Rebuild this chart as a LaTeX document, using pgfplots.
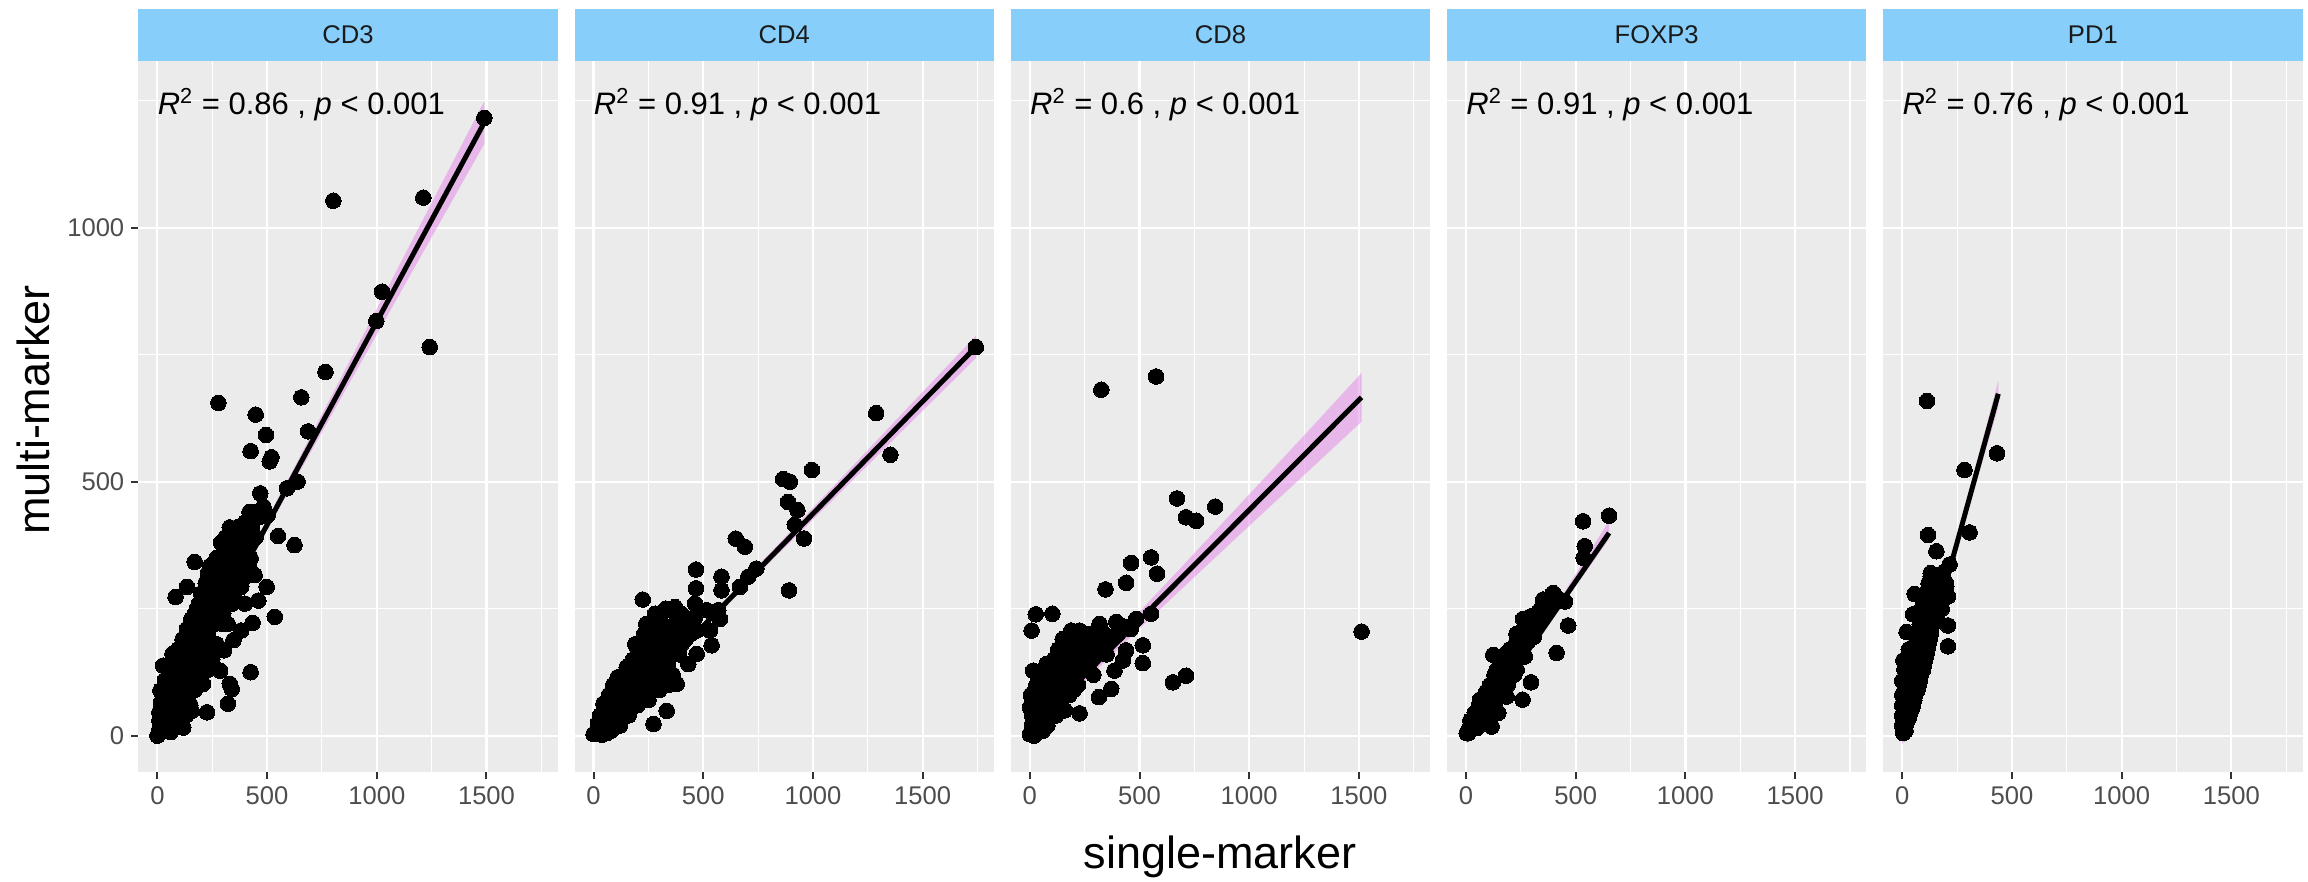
\documentclass[border=0pt]{standalone}
\usepackage{fontspec}
\setmainfont{Liberation Sans}
\usepackage{pgfplots}
\pgfplotsset{compat=1.18}

\definecolor{panelbg}{RGB}{235,235,235}
\definecolor{stripblue}{RGB}{135,206,250}
\definecolor{tickgray}{RGB}{77,77,77}
\definecolor{tickdark}{RGB}{51,51,51}
\definecolor{striptext}{RGB}{26,26,26}
\definecolor{ribbon}{RGB}{226,120,230}

\newcommand{\tickfont}{\fontsize{12.8}{14}\selectfont}

\pgfplotsset{
  facet/.style={
    scale only axis, width=209.75pt, height=355.65pt,
    anchor=south west,
    xmin=-87, xmax=1825, ymin=-72, ymax=1328,
    axis background/.style={fill=panelbg},
    axis line style={draw=none},
    xtick={0,500,1000,1500}, xticklabels={0,500,1000,1500},
    ytick={0,500,1000},
    minor xtick={250,750,1250,1750}, minor ytick={250,750,1250},
    grid=both,
    major grid style={white, line width=1.1pt},
    minor grid style={white, line width=0.55pt},
    tick align=outside, tick pos=left,
    major tick length=3.5pt, minor tick length=0pt,
    every tick/.style={tickdark, line width=1pt},
    xticklabel style={font=\tickfont, text=tickgray},
    yticklabel style={font=\tickfont, text=tickgray},
    clip=true,
  },
  noy/.style={yticklabels={}, ytick style={draw=none}},
  pts/.style={only marks, mark=*, mark size=3.9pt,
    mark options={fill=black, draw=black, line width=0pt}},
  band/.style={draw=none, fill=ribbon, fill opacity=0.45},
  fit/.style={black, line width=2.5pt, no marks},
}

\newcommand{\stat}[1]{\node[anchor=base west, inner sep=0pt,
  font=\fontsize{15.5}{17}\selectfont] at (axis cs:0,1223)
  {\textit{R}\textsuperscript{2} = #1 , \textit{p} < 0.001};}

\newcommand{\strip}[2]{%
  \fill[stripblue] (#1.north west) rectangle ([yshift=26pt]#1.north east);
  \node[font=\tickfont, text=striptext] at ([yshift=13pt]#1.north) {#2};}

\begin{document}
\begin{tikzpicture}
\useasboundingbox (0,0) rectangle (1154pt,441pt);

% ---------------- CD3 ----------------
\begin{axis}[facet, name=p1, at={(69.15pt,54.85pt)}, yticklabels={0,500,1000}]
\addplot[pts] coordinates {
(1490,1216)(802,1053)(1212,1059)(1024,874)(998,816)(1241,765)(766,716)(278,655)
(656,666)(448,632)(495,592)(687,599)(425,560)(512,540)(520,548)(590,487)(639,500)
(469,477)(483,451)(469,431)(503,434)(370,411)(352,393)(448,391)(550,393)(625,375)
(330,362)(312,345)(365,342)(425,349)(170,342)(240,334)(399,313)(443,316)(266,313)
(135,293)(83,273)(498,293)(382,293)(240,273)(460,266)(191,247)(330,260)(399,260)
(535,234)(434,222)(382,207)(260,220)(170,220)(347,188)(304,168)(148,168)(69,161)
(26,138)(148,141)(226,141)(286,128)(425,125)(330,102)(339,92)(321,63)(226,46)
(14,89)(17,66)(9,46)(118,16)(61,7)(0,0)(9,30)(156,89)(104,102)(208,102)(156,49)
(87,36)(52,59)(191,194)(234,181)
(20,20)(40,30)(60,50)(80,40)(100,60)(30,60)(50,90)(70,110)(90,80)(110,100)
(130,120)(120,70)(140,90)(160,110)(180,130)(200,150)(100,140)(120,160)(140,190)
(160,200)(180,180)(200,210)(220,230)(240,250)(260,270)(280,290)(300,310)(320,330)
(210,170)(230,200)(250,220)(270,240)(290,260)(310,280)(330,300)(350,320)(370,340)
(390,360)(410,380)(430,410)(450,440)(180,250)(200,280)(220,300)(260,300)(290,330)
(340,370)(360,400)(380,380)(400,420)(420,440)(300,240)(320,220)(350,280)(370,300)
(400,330)(270,180)(250,150)(230,130)(190,120)(170,90)(150,60)(130,40)(110,30)
(80,20)(40,10)(20,50)(10,15)(35,110)(55,130)(75,150)(95,170)(115,190)(135,210)
(155,230)(175,220)(195,240)(215,260)(235,280)(255,300)(275,320)(295,350)(315,370)
(335,390)
(50,30)(70,60)(90,50)(110,70)(130,90)(150,100)(170,150)(190,170)(210,190)(230,210)
(250,240)(270,260)(290,290)(310,300)(330,320)(350,350)(370,360)(390,380)(410,400)
(150,200)(170,240)(190,260)(210,280)(230,320)(250,330)(270,350)(290,380)(310,390)
(330,410)(125,180)(105,160)(85,130)(65,100)(45,70)(25,40)(60,20)(100,40)(140,70)
(180,100)(220,140)(260,180)(300,220)(340,260)(380,300)(420,330)
};
\addplot[band] coordinates {(0,26)(150,143)(300,263)(600,508)(900,757)(1200,1007)(1490,1249)
  (1490,1165)(1200,943)(900,713)(600,482)(300,247)(150,127)(0,4)} -- cycle;
\addplot[fit] coordinates {(0,15)(1490,1207)};
\stat{0.86}
\end{axis}
\strip{p1}{CD3}

% ---------------- CD4 ----------------
\begin{axis}[facet, noy, name=p2, at={(287.25pt,54.85pt)}]
\addplot[pts] coordinates {
(1742,765)(1288,635)(1353,553)(995,523)(864,505)(894,500)(886,460)(929,444)
(917,415)(959,388)(891,286)(648,388)(689,372)(742,329)(705,313)(667,293)(467,327)
(467,290)(583,313)(583,286)(462,260)(515,247)(576,230)(568,247)(371,253)(224,268)
(288,207)(348,214)(470,207)(530,207)(538,178)(250,168)(364,181)(470,161)(432,141)
(379,102)(333,49)(273,23)(197,128)(151,135)(91,76)(45,63)(0,3)
(10,5)(20,15)(30,10)(40,30)(50,20)(60,40)(70,25)(80,55)(90,35)(100,70)(110,45)
(120,80)(130,55)(140,95)(150,65)(160,110)(170,75)(180,120)(190,90)(200,140)
(210,100)(220,150)(230,80)(240,160)(250,120)(260,175)(270,130)(280,190)(290,110)
(300,200)(310,150)(320,210)(330,170)(340,140)(350,200)(360,120)(370,180)(380,230)
(390,160)(400,210)(420,190)(440,230)(30,40)(50,60)(70,80)(90,100)(110,115)
(150,130)(200,60)(250,70)(160,40)(120,20)(80,10)(60,5)(40,2)(200,170)(230,200)
(260,210)(180,150)(310,240)(300,90)(340,100)(320,200)(350,215)(300,180)
(20,25)(40,10)(60,25)(80,40)(100,30)(100,50)(120,60)(140,50)(140,75)(160,80)
(160,60)(180,100)(180,70)(200,100)(200,120)(220,120)(220,90)(240,110)(240,140)
(260,140)(260,100)(280,150)(280,120)(300,160)(300,130)(320,180)(320,150)(340,170)
(340,190)(360,160)(360,200)(380,190)(400,180)(400,240)(420,220)(440,200)(460,230)
(120,100)(100,90)(130,110)(170,140)(210,170)(250,190)(290,230)(330,250)(280,240)
(240,220)(190,180)
};
\addplot[band] coordinates {(0,2)(200,88)(500,222)(800,358)(1100,494)(1400,631)(1742,787)
  (1742,743)(1400,597)(1100,468)(800,340)(500,210)(200,78)(0,-12)} -- cycle;
\addplot[fit] coordinates {(0,-5)(1742,765)};
\stat{0.91}
\end{axis}
\strip{p2}{CD4}

% ---------------- CD8 ----------------
\begin{axis}[facet, noy, name=p3, at={(505.35pt,54.85pt)}]
\addplot[pts] coordinates {
(326,681)(576,707)(671,467)(845,451)(712,430)(758,423)(553,351)(462,340)(580,319)
(439,301)(345,288)(27,239)(103,240)(8,207)(1512,205)(712,118)(652,105)(515,143)
(515,178)(553,240)(485,230)(394,224)(318,220)(227,207)(189,207)(439,168)(424,148)
(386,128)(371,92)(315,76)(227,44)(15,128)(76,141)(15,82)(0,56)(0,3)(197,181)
(242,141)(303,181)
(10,10)(20,30)(30,15)(40,50)(50,25)(60,70)(70,40)(80,90)(90,55)(100,110)(110,70)
(120,120)(130,80)(140,100)(150,140)(160,90)(170,130)(180,110)(190,160)(200,120)
(210,150)(220,100)(230,170)(240,130)(250,180)(260,150)(270,190)(280,160)(290,120)
(300,200)(320,180)(340,200)(360,190)(20,60)(40,90)(60,30)(80,20)(100,50)(120,40)
(140,60)(160,50)(180,80)(200,90)(30,100)(50,120)(70,110)(90,130)(110,150)(130,170)
(150,190)(10,40)(25,5)(45,10)(5,80)(400,200)(430,215)(460,210)(350,160)(280,200)
(250,200)(220,190)
(10,20)(30,40)(50,60)(70,80)(90,100)(110,90)(130,110)(150,120)(170,150)(190,140)
(210,170)(230,140)(250,160)(270,170)(290,180)(310,190)(330,170)(20,0)(40,20)(60,10)
(80,50)(100,80)(120,90)(140,120)(160,130)(180,140)(200,170)(220,160)(240,180)
(260,190)(30,70)(50,90)(70,60)(90,75)(110,120)(130,140)(150,160)(170,180)(190,190)
(210,200)
};
\addplot[band] coordinates {(0,27)(150,88)(400,198)(700,336)(1000,475)(1250,591)(1512,714)
  (1512,618)(1250,513)(1000,413)(700,292)(400,170)(150,64)(0,-5)} -- cycle;
\addplot[fit] coordinates {(0,11)(1512,666)};
\stat{0.6}
\end{axis}
\strip{p3}{CD8}

% ---------------- FOXP3 ----------------
\begin{axis}[facet, noy, name=p4, at={(723.45pt,54.85pt)}]
\addplot[pts] coordinates {
(652,433)(534,422)(541,373)(536,350)(397,281)(352,268)(338,248)(451,264)(466,217)
(413,163)(284,186)(246,176)(124,159)(185,163)(296,105)(258,71)(64,71)(117,18)(3,5)
(322,215)(268,156)(231,130)(155,110)(185,77)(109,58)(33,25)(79,38)(147,45)
(10,5)(20,12)(30,15)(40,22)(50,30)(60,35)(70,45)(80,50)(90,60)(100,65)(110,75)
(120,80)(130,90)(140,95)(150,105)(160,110)(170,120)(180,125)(190,135)(200,140)
(210,150)(220,155)(230,165)(240,170)(250,180)(50,15)(80,30)(100,45)(130,60)
(160,80)(190,100)(220,120)(20,30)(40,45)(60,60)(90,85)(110,100)(140,130)(170,150)
(380,255)(360,240)(420,270)(330,230)(300,210)(310,195)
(15,15)(25,20)(35,30)(45,35)(55,45)(65,50)(75,55)(85,70)(95,75)(105,80)(115,90)
(125,100)(135,110)(145,115)(155,125)(165,130)(175,140)(185,145)(195,155)(205,160)
(215,170)(225,180)(235,185)(245,195)(255,200)(265,210)(275,220)(285,225)(295,235)
(100,90)(130,120)(160,140)(200,170)(230,200)(260,230)(70,30)(120,60)(170,100)
(220,140)
};
\addplot[band] coordinates {(0,-5)(100,57)(250,152)(400,249)(652,423)
  (652,387)(400,233)(250,142)(100,49)(0,-15)} -- cycle;
\addplot[fit] coordinates {(0,-10)(652,399)};
\stat{0.91}
\end{axis}
\strip{p4}{FOXP3}

% ---------------- PD1 ----------------
\begin{axis}[facet, noy, name=p5, at={(941.55pt,54.85pt)}]
\addplot[pts] coordinates {
(113,659)(432,556)(284,523)(307,400)(118,395)(156,363)(216,337)(130,314)(201,294)
(208,274)(57,279)(208,217)(208,176)(20,204)(50,239)(95,259)(80,219)(141,244)
(0,108)(5,148)(80,108)(50,68)(5,7)
(5,5)(10,20)(15,10)(20,40)(25,30)(30,60)(35,45)(40,80)(45,55)(50,100)(55,70)
(60,120)(65,90)(70,140)(75,100)(80,160)(85,120)(90,180)(95,130)(100,200)(105,150)
(110,210)(115,170)(120,230)(125,190)(130,250)(140,220)(150,260)(160,240)(170,270)
(180,250)(190,300)(200,280)(10,50)(20,70)(30,90)(40,110)(50,140)(60,160)(70,180)
(80,200)(90,220)(15,80)(25,100)(35,125)(45,150)(55,170)(65,195)(5,30)(15,55)
(100,170)(110,190)(130,210)(150,230)(170,300)(185,320)(120,270)(140,280)(160,290)
(10,10)(20,25)(30,35)(40,50)(50,60)(60,80)(70,90)(80,110)(90,130)(100,140)
(110,160)(120,180)(130,200)(140,230)(150,240)(160,260)(170,250)(180,280)(190,270)
(200,300)(20,100)(30,120)(40,140)(50,160)(60,180)(70,200)(80,240)(90,250)(100,260)
(110,280)(120,300)(130,320)(0,20)(0,40)(0,60)(0,80)(10,100)(10,130)(20,150)(30,170)
};
\addplot[band] coordinates {(0,-2)(60,90)(150,232)(300,474)(438,699)
  (438,647)(300,442)(150,216)(60,78)(0,-18)} -- cycle;
\addplot[fit] coordinates {(0,-10)(438,673)};
\stat{0.76}
\end{axis}
\strip{p5}{PD1}

% axis titles
\node[anchor=base, font=\fontsize{22.5}{26}\selectfont] at (610pt,6.5pt) {single-marker};
\node[anchor=base, rotate=90, font=\fontsize{22.5}{26}\selectfont] at (25pt,236pt) {multi-marker};
\end{tikzpicture}
\end{document}
